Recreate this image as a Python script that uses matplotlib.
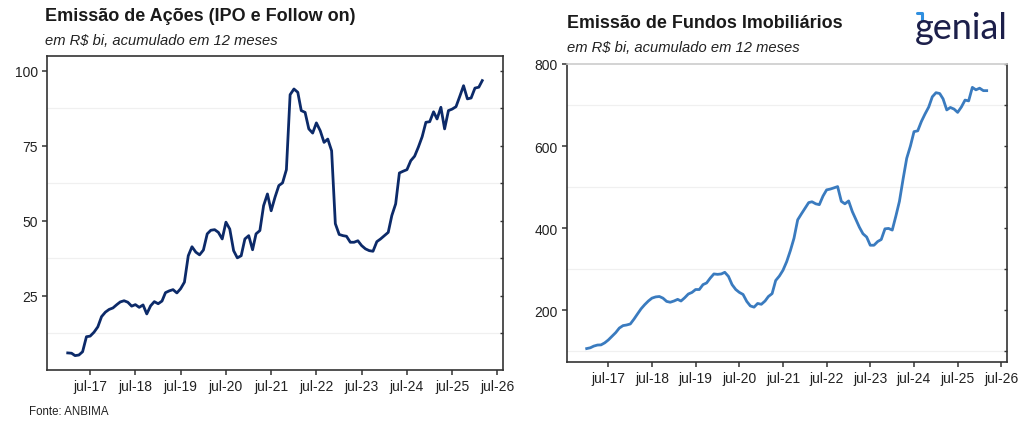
import matplotlib
matplotlib.use("Agg")
import matplotlib.pyplot as plt
from matplotlib.lines import Line2D
import pandas as pd

plt.rcParams['font.family'] = ['Liberation Sans', 'DejaVu Sans']

# ---------------- data ----------------
start_month = "2017-01-01"
n_months = 111

acoes = [5.9, 5.8, 5.0, 5.2, 6.3, 11.3, 11.5, 12.8, 14.6, 18.0,
         19.5, 20.4, 20.9, 22.0, 22.9, 23.3, 22.8, 21.5, 22.0, 21.1,
         21.9, 18.9, 21.6, 23.0, 22.3, 23.2, 26.0, 26.6, 27.0, 25.9,
         27.3, 29.5, 38.3, 41.3, 39.5, 38.6, 40.2, 45.6, 46.8, 47.0,
         46.1, 43.9, 49.5, 47.2, 40.0, 37.6, 38.3, 43.9, 45.0, 40.3,
         45.6, 46.7, 55.0, 58.9, 53.3, 57.8, 61.7, 62.6, 67.0, 92.0,
         93.9, 92.8, 86.7, 86.1, 80.6, 79.2, 82.6, 80.0, 76.1, 77.2,
         73.3, 49.0, 45.4, 45.0, 44.8, 42.8, 42.8, 43.3, 41.7, 40.6,
         40.0, 39.8, 43.0, 43.9, 45.0, 46.1, 51.7, 55.6, 65.9, 66.5,
         67.0, 70.0, 71.5, 74.5, 78.0, 82.8, 83.0, 86.3, 83.9, 87.8,
         80.6, 86.7, 87.2, 88.0, 91.5, 95.0, 90.6, 90.9, 94.2, 94.5,
         96.7]

fundos = [106, 108, 112, 114.6, 115, 120, 127, 136, 145, 156,
          162, 163.5, 166, 178, 190, 203, 213, 222, 229, 232,
          233, 229, 221, 219, 222, 226, 222, 230, 239, 243,
          250, 250, 262, 266, 278, 288, 287, 288, 292, 282,
          262, 250, 243, 238, 221, 210, 207, 216, 214, 222,
          233, 240, 272, 283, 297, 318, 345, 375, 420, 434,
          448, 462, 464, 459, 457, 478, 493, 495, 498, 501,
          465, 459, 466, 440, 422, 402, 386, 378, 358, 358,
          367, 372, 398, 399, 395, 430, 465, 520, 570, 600,
          635, 637, 660, 678, 695, 720, 730, 728, 715, 688,
          694, 690, 682, 695, 712, 710, 743, 737, 741, 735,
          735]

tick_years = list(range(2017, 2027))
tick_labels = ["jul-%02d" % (y % 100) for y in tick_years]

left_title = "Emissão de Ações (IPO e Follow on)"
right_title = "Emissão de Fundos Imobiliários"
subtitle = "em R$ bi, acumulado em 12 meses"
source = "Fonte: ANBIMA"

dates = pd.date_range(start_month, periods=n_months, freq="MS")
tick_dates = pd.to_datetime(["%d-07-01" % y for y in tick_years])

# ---------------- figure ----------------
fig = plt.figure(figsize=(10.24, 4.27), dpi=100)

axL = fig.add_axes([0.0459, 0.1311, 0.4453, 0.7354])
axR = fig.add_axes([0.5534, 0.1506, 0.4297, 0.6972])

span = dates[-1] - dates[0]
pad = span * 0.05
xlim = (dates[0] - pad, dates[-1] + pad)

dark = "#333333"


def style(ax, majors, minors, ylim, top_color):
    ax.set_xlim(xlim)
    ax.set_ylim(ylim)
    for m in minors:
        ax.axhline(m, color="#f0f0f0", lw=0.9, zorder=0)
    ax.set_xticks(tick_dates)
    ax.set_xticklabels(tick_labels)
    ax.set_yticks(majors)
    ax.set_yticklabels([str(int(v)) for v in majors])
    ax.tick_params(axis="both", labelsize=10, colors=dark, length=3.5,
                   width=1.1, direction="out", pad=3)
    ax.tick_params(axis="x", labelcolor="#222222")
    ax.tick_params(axis="y", labelcolor="#222222")
    for s in ["left", "right", "bottom"]:
        ax.spines[s].set_color(dark)
        ax.spines[s].set_linewidth(1.2)
    ax.spines["top"].set_color(top_color)
    ax.spines["top"].set_linewidth(1.2)
    # inward ticks on the right spine
    sec = ax.secondary_yaxis("right")
    sec.set_yticks(sorted(list(majors) + list(minors)))
    sec.tick_params(direction="in", length=2.5, width=1.0, colors=dark,
                    labelright=False)
    sec.spines["right"].set_visible(False)


axL.plot(dates, acoes, color="#0c2a69", lw=2.0, solid_joinstyle="round")
style(axL, [25, 50, 75, 100], [12.5, 37.5, 62.5, 87.5], (0.2, 104.9), dark)

axR.plot(dates, fundos, color="#3a7bbf", lw=2.0, solid_joinstyle="round")
style(axR, [200, 400, 600, 800], [100, 300, 500, 700], (74, 800), "#cccccc")

# titles
fig.text(0.044, 0.962, left_title, fontsize=13, fontweight="bold",
         color="#1a1a1a", va="center", ha="left")
fig.text(0.044, 0.903, subtitle, fontsize=10.6, style="italic",
         color="#222222", va="center", ha="left")
fig.text(0.554, 0.945, right_title, fontsize=12.9, fontweight="bold",
         color="#1a1a1a", va="center", ha="left")
fig.text(0.554, 0.888, subtitle, fontsize=10.6, style="italic",
         color="#222222", va="center", ha="left")
fig.text(0.028, 0.036, source, fontsize=8.3, color="#222222",
         va="center", ha="left")

# logo
fig.text(0.984, 0.933, "genial", fontsize=26, color="#1c1f4a",
         family=["Lato", "DejaVu Sans"], ha="right", va="center")
fig.add_artist(Line2D([0.8955, 0.9005, 0.9005], [0.968, 0.968, 0.950],
                      transform=fig.transFigure, color="#2f8fe0", lw=2.2,
                      solid_capstyle="round"))

fig.savefig("out.png", dpi=100, facecolor="white")
